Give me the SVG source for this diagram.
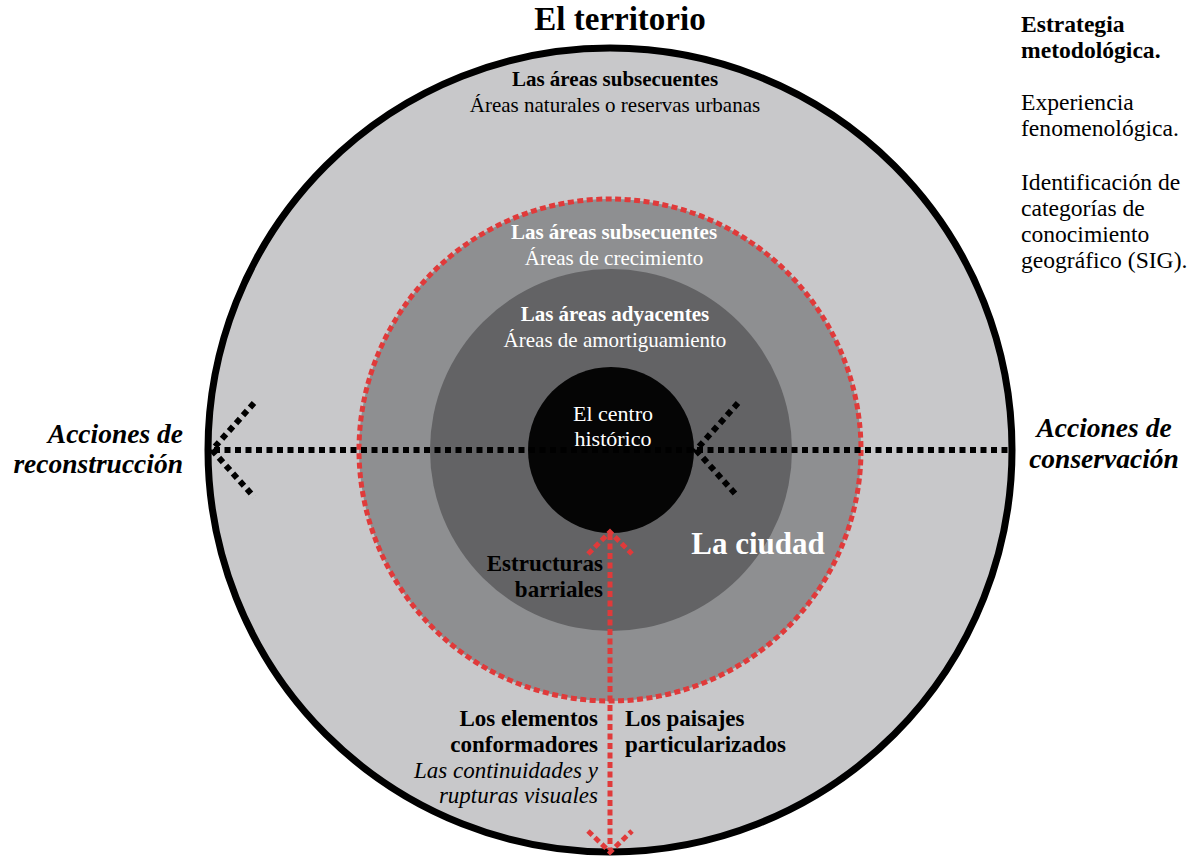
<svg xmlns="http://www.w3.org/2000/svg" width="1196" height="860" viewBox="0 0 1196 860">
<style>
text{font-family:"Liberation Serif","Times New Roman",serif;font-size:22px;}
.b{font-weight:bold;}
.i{font-style:italic;}
.w{fill:#ffffff;}
.m{text-anchor:middle;}
.e{text-anchor:end;}
.s21{font-size:21px;}
.s23{font-size:23px;}
.s235{font-size:23.6px;}
.s27{font-size:27.5px;}
.blk{fill:none;stroke:#000;stroke-width:6;stroke-dasharray:6 4.5;}
.red{fill:none;stroke:#e03a3a;stroke-width:5;stroke-dasharray:6 3.5;}
</style>
<rect width="1196" height="860" fill="#ffffff"/>

<g id="territorio">
<circle cx="610" cy="450" r="402" fill="#c8c8ca" stroke="#000" stroke-width="7"/>
<text class="b m" x="620" y="30" style="font-size:33px">El territorio</text>
<text class="b m s21" x="615" y="86">Las áreas subsecuentes</text>
<text class="m s21" x="615" y="112">Áreas naturales o reservas urbanas</text>
</g>

<g id="ciudad">
<circle cx="610" cy="450" r="251" fill="#8e8f91"/>
<circle class="red" cx="610" cy="450" r="251" stroke-dasharray="7 4"/>
<text class="b w m s21" x="614" y="239">Las áreas subsecuentes</text>
<text class="w m s21" x="614" y="265">Áreas de crecimiento</text>
</g>

<g id="adyacentes">
<circle cx="611" cy="450" r="181" fill="#636365"/>
<text class="b w m s21" x="615" y="321">Las áreas adyacentes</text>
<text class="w m s21" x="615" y="347">Áreas de amortiguamiento</text>
</g>

<g id="ciudad-label">
<text class="b w m" x="758" y="554" style="font-size:31px">La ciudad</text>
</g>

<g id="estructuras">
<text class="b e s23" x="603" y="571">Estructuras</text>
<text class="b e s23" x="603" y="597">barriales</text>
</g>

<g id="centro">
<circle cx="611" cy="450" r="83" fill="#050505"/>
<text class="w m" x="613" y="421">El centro</text>
<text class="w m" x="613" y="446">histórico</text>
</g>

<g id="connectors">
<line class="blk" x1="214" y1="450" x2="1009" y2="450"/>
<polyline class="blk" points="254,403 212,450 254,497"/>
<polyline class="blk" points="738,403 696,450 738,497"/>
<line class="red" x1="610" y1="534" x2="610" y2="850"/>
<polyline class="red" points="588,554 610,532 632,554"/>
<polyline class="red" points="588,831 610,852 632,831"/>
</g>

<g id="reconstruccion">
<text class="b i e s27" x="183" y="443">Acciones de</text>
<text class="b i e s27" x="183" y="473">reconstrucción</text>
</g>

<g id="conservacion">
<text class="b i m s27" x="1104" y="437">Acciones de</text>
<text class="b i m s27" x="1104" y="468">conservación</text>
</g>

<g id="elementos">
<text class="b e s23" x="598" y="726">Los elementos</text>
<text class="b e s23" x="598" y="752">conformadores</text>
<text class="i e s23" x="598" y="778">Las continuidades y</text>
<text class="i e s23" x="598" y="803">rupturas visuales</text>
</g>

<g id="paisajes">
<text class="b s23" x="625" y="726">Los paisajes</text>
<text class="b s23" x="625" y="752">particularizados</text>
</g>

<g id="estrategia">
<text class="b s235" x="1021" y="32">Estrategia</text>
<text class="b s235" x="1021" y="58">metodológica.</text>
<text class="s235" x="1021" y="110">Experiencia</text>
<text class="s235" x="1021" y="136">fenomenológica.</text>
<text class="s235" x="1021" y="190">Identificación de</text>
<text class="s235" x="1021" y="216">categorías de</text>
<text class="s235" x="1021" y="242">conocimiento</text>
<text class="s235" x="1021" y="268">geográfico (SIG).</text>
</g>
</svg>
